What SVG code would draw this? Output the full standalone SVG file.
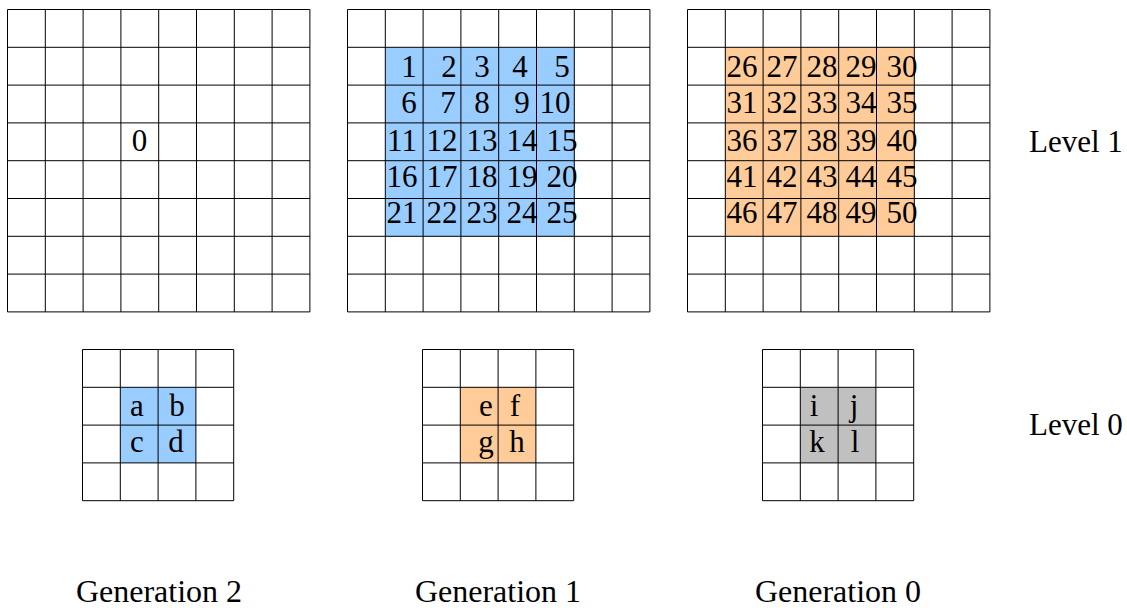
<svg xmlns="http://www.w3.org/2000/svg" width="1127" height="608" viewBox="0 0 1127 608">
<style>
.t{font-family:"Liberation Serif","Times New Roman",serif;font-size:31px;fill:#000;text-anchor:middle}
.lbl{font-family:"Liberation Serif","Times New Roman",serif;font-size:31px;fill:#000}
.gen{font-family:"Liberation Serif","Times New Roman",serif;font-size:32px;fill:#000;text-anchor:middle}
.g{fill:none;stroke:#000;stroke-width:1}
.blue{fill:#99CCFF}
.orange{fill:#FFCC99}
.gray{fill:#C0C0C0}
</style>
<defs>
<path id="grid8" class="g" d="M0 0V302.4M37.8 0V302.4M75.6 0V302.4M113.4 0V302.4M151.2 0V302.4M189 0V302.4M226.8 0V302.4M264.6 0V302.4M302.4 0V302.4M0 0H302.4M0 37.8H302.4M0 75.6H302.4M0 113.4H302.4M0 151.2H302.4M0 189H302.4M0 226.8H302.4M0 264.6H302.4M0 302.4H302.4"/>
<path id="grid4" class="g" d="M0 0V151.2M37.8 0V151.2M75.6 0V151.2M113.4 0V151.2M151.2 0V151.2M0 0H151.2M0 37.8H151.2M0 75.6H151.2M0 113.4H151.2M0 151.2H151.2"/>
</defs>
<rect width="1127" height="608" fill="#fff"/>

<g id="gen2-level1">
<use href="#grid8" transform="translate(7.5,9.5)"/>
<text class="t" x="139.6" y="151">0</text>
</g>

<g id="gen1-level1">
<rect class="blue" x="385.3" y="47.3" width="189" height="189"/>
<use href="#grid8" transform="translate(347.5,9.5)"/>
<text class="t" x="409" y="77">1</text><text class="t" x="449" y="77">2</text><text class="t" x="482" y="77">3</text><text class="t" x="520" y="77">4</text><text class="t" x="562" y="77">5</text>
<text class="t" x="409" y="113">6</text><text class="t" x="448" y="113">7</text><text class="t" x="482" y="113">8</text><text class="t" x="522" y="113">9</text><text class="t" x="555" y="113">10</text>
<text class="t" x="402" y="150.5">11</text><text class="t" x="442" y="150.5">12</text><text class="t" x="482" y="150.5">13</text><text class="t" x="522" y="150.5">14</text><text class="t" x="562" y="150.5">15</text>
<text class="t" x="402" y="187">16</text><text class="t" x="442" y="187">17</text><text class="t" x="482" y="187">18</text><text class="t" x="522" y="187">19</text><text class="t" x="562" y="187">20</text>
<text class="t" x="402" y="223">21</text><text class="t" x="442" y="223">22</text><text class="t" x="482" y="223">23</text><text class="t" x="522" y="223">24</text><text class="t" x="562" y="223">25</text>
</g>

<g id="gen0-level1">
<rect class="orange" x="725.3" y="47.3" width="189" height="189"/>
<use href="#grid8" transform="translate(687.5,9.5)"/>
<text class="t" x="742" y="77">26</text><text class="t" x="782" y="77">27</text><text class="t" x="822" y="77">28</text><text class="t" x="861" y="77">29</text><text class="t" x="902" y="77">30</text>
<text class="t" x="742" y="113">31</text><text class="t" x="782" y="113">32</text><text class="t" x="822" y="113">33</text><text class="t" x="861" y="113">34</text><text class="t" x="902" y="113">35</text>
<text class="t" x="742" y="150.5">36</text><text class="t" x="782" y="150.5">37</text><text class="t" x="822" y="150.5">38</text><text class="t" x="861" y="150.5">39</text><text class="t" x="902" y="150.5">40</text>
<text class="t" x="742" y="187">41</text><text class="t" x="782" y="187">42</text><text class="t" x="822" y="187">43</text><text class="t" x="861" y="187">44</text><text class="t" x="902" y="187">45</text>
<text class="t" x="742" y="223">46</text><text class="t" x="782" y="223">47</text><text class="t" x="822" y="223">48</text><text class="t" x="861" y="223">49</text><text class="t" x="902" y="223">50</text>
</g>

<g id="gen2-level0">
<rect class="blue" x="120.3" y="387.3" width="75.6" height="75.6"/>
<use href="#grid4" transform="translate(82.5,349.5)"/>
<text class="t" x="137" y="416">a</text><text class="t" x="177" y="416">b</text>
<text class="t" x="137" y="452">c</text><text class="t" x="176" y="452">d</text>
</g>

<g id="gen1-level0">
<rect class="orange" x="460.3" y="387.3" width="75.6" height="75.6"/>
<use href="#grid4" transform="translate(422.5,349.5)"/>
<text class="t" x="486" y="416">e</text><text class="t" x="515" y="416">f</text>
<text class="t" x="486" y="452">g</text><text class="t" x="517" y="452">h</text>
</g>

<g id="gen0-level0">
<rect class="gray" x="800.3" y="387.3" width="75.6" height="75.6"/>
<use href="#grid4" transform="translate(762.5,349.5)"/>
<text class="t" x="814" y="416">i</text><text class="t" x="854" y="416">j</text>
<text class="t" x="817" y="452">k</text><text class="t" x="855" y="452">l</text>
</g>

<g id="labels">
<text class="lbl" x="1029" y="152">Level 1</text>
<text class="lbl" x="1029" y="435">Level 0</text>
<text class="gen" x="159" y="602">Generation 2</text>
<text class="gen" x="498" y="602">Generation 1</text>
<text class="gen" x="838" y="602">Generation 0</text>
</g>

<g id="connectors"></g>
</svg>
